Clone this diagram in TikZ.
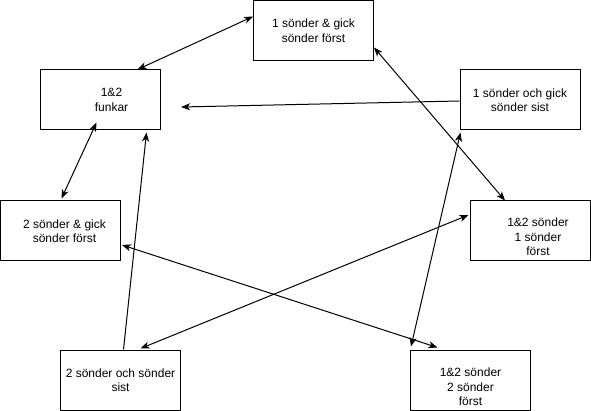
\documentclass[tikz,border=0pt]{standalone}
\usepackage{fontspec}
\setmainfont{Liberation Sans}
\usetikzlibrary{calc,arrows.meta}
\begin{document}
\begin{tikzpicture}[x=1pt,y=-1pt,
  box/.style={draw=black,line width=1pt,minimum width=120pt,minimum height=60pt,inner sep=0pt,
    align=center,font=\fontsize{12}{14.5}\selectfont},
  txt/.style={align=center,font=\fontsize{12}{14.5}\selectfont,inner sep=0pt},
  conn/.style={line width=1pt,{Stealth[length=9pt,width=7pt,inset=2.5pt]}-{Stealth[length=9pt,width=7pt,inset=2.5pt]}},
  oneway/.style={line width=1pt,-{Stealth[length=9pt,width=7pt,inset=2.5pt]}}]
\useasboundingbox (0,0) rectangle (591,411);
\node[box] (A) at (313.5,30.5) {1 sönder \& gick\\sönder först};
\node[box,label={[txt,xshift=11pt]center:1\&2\\funkar}] (B) at (100.5,100) {};
\node[box] (C) at (520,100) {1 sönder och gick\\sönder sist};
\node[box,label={[txt,xshift=4pt]center:2 sönder \& gick\\sönder först}] (D) at (60.5,231) {};
\node[box,label={[txt,xshift=8pt,yshift=-6pt]center:1\&2 sönder\\1 sönder\\först}] (E) at (530,231) {};
\node[box] (F) at (120.5,380) {2 sönder och sönder\\sist};
\node[box,label={[txt,yshift=-7pt]center:1\&2 sönder\\2 sönder\\först}] (G) at (470.5,380) {};
\coordinate (Bin) at ($(B.east)+(20,7)$);
% connectors
\draw[conn] ($(A.west)+(0,-14)$) -- ($(B.north)+(37,0)$);
\draw[oneway] ($(C.west)+(0,1)$) -- (Bin);
\draw[conn] ($(B.south)+(-4,-8)$) -- ($(D.north)+(1,-2)$);
\draw[oneway] ($(F.north)+(3,0)$) -- ($(B.south)+(46,2)$);
\draw[conn] ($(A.east)+(0,17)$) -- ($(E.north)+(-25,0)$);
\draw[conn] ($(C.south west)+(1,2)$) -- ($(G.north west)+(1,-3)$);
\draw[conn] ($(D.east)+(1,14)$) -- ($(G.north)+(-33,-2)$);
\draw[conn] ($(F.north)+(20,-1)$) -- ($(E.west)+(-1,-16)$);
\end{tikzpicture}
\end{document}
